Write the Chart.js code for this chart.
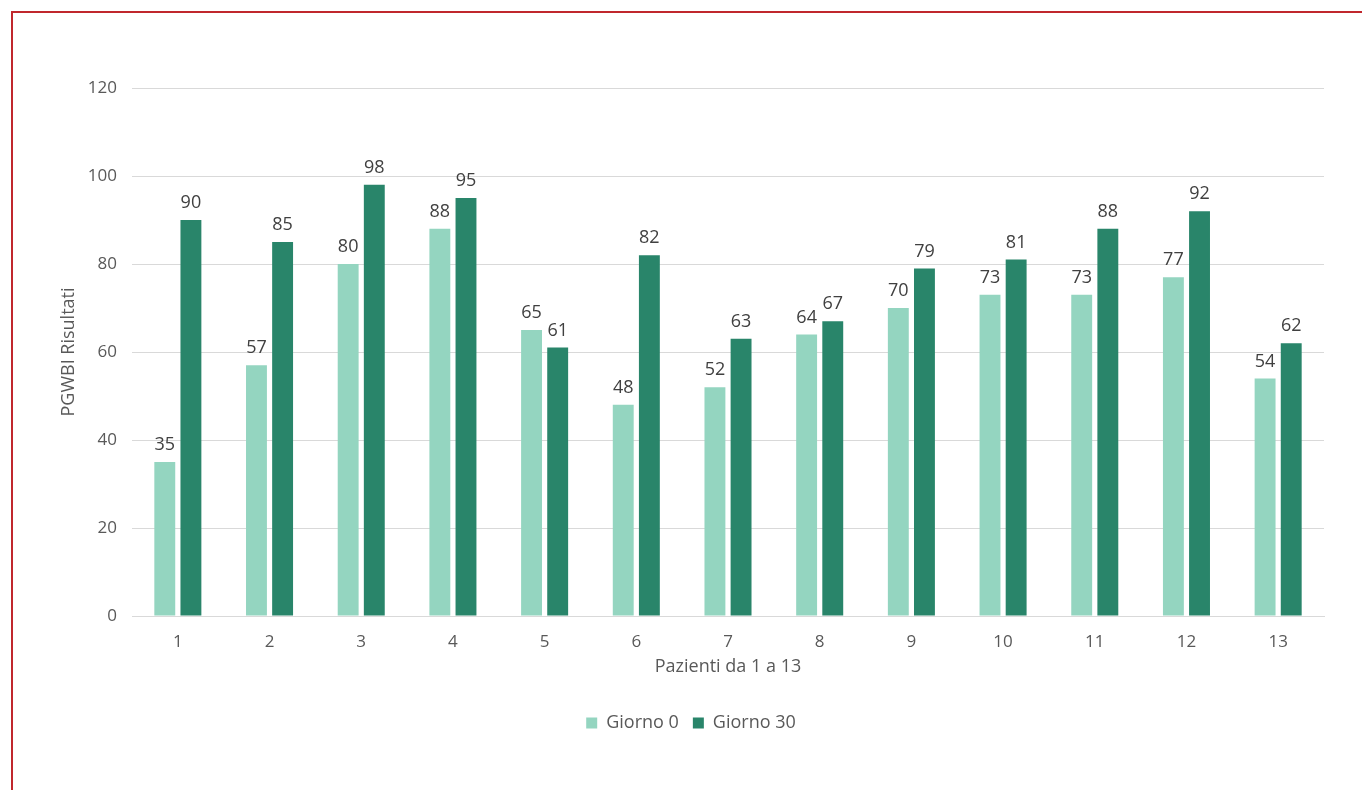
<!DOCTYPE html>
<html>
<head>
<meta charset="utf-8">
<script src="https://cdn.jsdelivr.net/npm/chart.js@4/dist/chart.umd.min.js"></script>
<style>
  html, body { margin: 0; padding: 0; background: #fff; overflow: hidden; }
  #wrap { position: relative; width: 1362px; height: 790px; }
  #frame { position: absolute; left: 11px; top: 11px; width: 1400px; height: 800px;
           border-left: 2px solid #c0272d; border-top: 2px solid #c0272d; pointer-events: none; }
  canvas { position: absolute; left: 0; top: 0; }
</style>
</head>
<body>
<div id="wrap">
  <canvas id="chart" width="1362" height="790"></canvas>
  <div id="frame"></div>
</div>
<script>
const pazienti = ['1', '2', '3', '4', '5', '6', '7', '8', '9', '10', '11', '12', '13'];
const giorno0 = [35, 57, 80, 88, 65, 48, 52, 64, 70, 73, 73, 77, 54];
const giorno30 = [90, 85, 98, 95, 61, 82, 63, 67, 79, 81, 88, 92, 62];
const yTicks = [0, 20, 40, 60, 80, 100, 120];

const FONT = "'Open Sans', 'Noto Sans', sans-serif";

// etichette dei valori sopra le barre
const valueLabels = {
    id: 'valueLabels',
    afterDatasetsDraw(chart) {
        const c = chart.ctx;
        c.save();
        c.font = '18px ' + FONT;
        c.fillStyle = '#404040';
        c.textAlign = 'center';
        c.textBaseline = 'bottom';
        chart.data.datasets.forEach((ds, i) => {
            chart.getDatasetMeta(i).data.forEach((bar, j) => {
                c.fillText(ds.data[j], bar.x, bar.y - 8);
            });
        });
        c.restore();
    }
};

new Chart(document.getElementById('chart').getContext('2d'), {
    type: 'bar',
    data: {
        labels: pazienti,
        datasets: [{
            label: 'Giorno 0',
            data: giorno0,
            backgroundColor: '#94d5c0',
            categoryPercentage: 0.57,
            barPercentage: 0.8
        }, {
            label: 'Giorno 30',
            data: giorno30,
            backgroundColor: '#29856a',
            categoryPercentage: 0.57,
            barPercentage: 0.8
        }]
    },
    options: {
        responsive: false,
        animation: false,
        layout: { padding: { left: 58, right: 38, top: 88, bottom: 48 } },
        plugins: {
            legend: {
                position: 'bottom',
                labels: {
                    color: '#595959',
                    font: { family: FONT, size: 18 },
                    boxWidth: 11,
                    boxHeight: 11,
                    padding: 14
                }
            },
            tooltip: { enabled: false }
        },
        scales: {
            x: {
                grid: { display: false },
                border: { color: '#d9d9d9', width: 1 },
                ticks: { color: '#595959', font: { family: FONT, size: 17 }, padding: 8 },
                title: { display: true, text: 'Pazienti da 1 a 13', color: '#595959',
                         font: { family: FONT, size: 18 }, padding: { top: 4, bottom: 22 } },
                afterFit(s) { s.height = 84; }
            },
            y: {
                min: 0,
                max: 120,
                afterBuildTicks(s) { s.ticks = yTicks.map(v => ({ value: v })); },
                grid: { color: '#d9d9d9', drawTicks: false },
                border: { display: false },
                ticks: { color: '#595959', font: { family: FONT, size: 17 }, padding: 15 },
                title: { display: true, text: 'PGWBI Risultati', color: '#595959',
                         font: { family: FONT, size: 18 }, padding: 0 },
                afterFit(s) { s.width = 74; }
            }
        }
    },
    plugins: [valueLabels]
});
</script>
</body>
</html>
